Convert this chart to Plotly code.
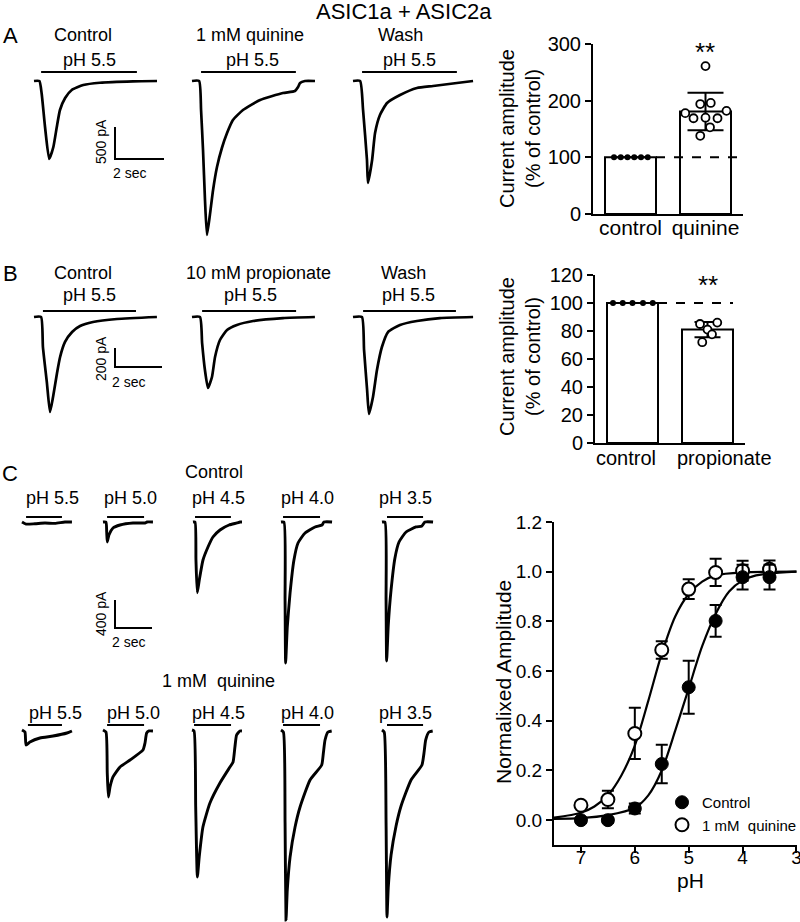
import plotly.graph_objects as go

W, H = 800, 922
FONT = "Liberation Sans, Arial, sans-serif"

# ===================== DATA =====================
# Panel A current traces (time in s from sweep start, current in pA)
A_CTRL_T = [0, 0.22, 0.31, 0.45, 0.62, 0.79, 0.93, 1.06, 1.27, 1.54, 2.01, 2.69, 4.04, 5.02]
A_CTRL_I = [0, 0, -188, -719, -1219, -1031, -719, -453, -266, -141, -63, -27, -5, 0]
A_QUIN_T = [0, 0.29, 0.37, 0.45, 0.53, 0.61, 0.73, 0.86, 1.02, 1.22, 1.43, 1.67, 2.08, 2.78, 3.71, 4.20, 4.33, 4.41, 4.61, 5.02]
A_QUIN_I = [0, 0, -453, -1078, -1859, -2406, -2094, -1703, -1344, -1047, -813, -609, -453, -297, -188, -156, -94, -31, 0, 0]
A_WASH_T = [0, 0.29, 0.41, 0.57, 0.61, 0.78, 0.90, 1.10, 1.39, 1.92, 2.61, 3.27, 4.24, 4.90]
A_WASH_I = [0, 0, -453, -1234, -1594, -1234, -813, -531, -344, -219, -109, -78, -31, 0]
A_LABELS = ["Control", "1 mM quinine", "Wash"]
A_PH = ["pH 5.5", "pH 5.5", "pH 5.5"]
A_APP = [(0.29, 4.20), (0.37, 4.24), (0.37, 4.24)]   # pH application (s)
A_SCALE = (2, 500)                                   # s, pA

# Panel B current traces
B_CTRL_T = [0, 0.30, 0.38, 0.55, 0.68, 0.81, 0.98, 1.11, 1.32, 1.62, 1.96, 2.51, 3.53, 5.23]
B_CTRL_I = [0, 0, -316, -695, -1000, -842, -589, -421, -263, -158, -95, -53, -21, 0]
B_PROP_T = [0, 0.34, 0.43, 0.55, 0.68, 0.85, 0.98, 1.19, 1.49, 1.91, 2.60, 3.87, 5.23]
B_PROP_I = [0, 0, -274, -558, -747, -632, -421, -242, -137, -84, -42, -11, 0]
B_WASH_T = [0, 0.38, 0.47, 0.60, 0.68, 0.85, 1.02, 1.23, 1.49, 2.00, 2.72, 3.70, 5.11]
B_WASH_I = [0, 0, -347, -768, -1021, -842, -558, -316, -158, -84, -42, -11, 0]
B_LABELS = ["Control", "10 mM propionate", "Wash"]
B_PH = ["pH 5.5", "pH 5.5", "pH 5.5"]
B_APP = [(0.38, 4.34), (0.43, 4.43), (0.43, 4.38)]
B_SCALE = (2, 200)

# Panel C current traces, control row
C_PH = ["pH 5.5", "pH 5.0", "pH 4.5", "pH 4.0", "pH 3.5"]
C1_T = [
    [0, 0.22, 0.70, 1.24, 1.78, 2.32, 2.70],
    [0, 0.16, 0.20, 0.23, 0.32, 0.54, 0.92, 1.62, 2.27, 2.38, 2.70],
    [0, 0.11, 0.16, 0.23, 0.34, 0.54, 0.81, 1.08, 1.46, 1.95, 2.38, 2.54, 2.65],
    [0, 0.16, 0.22, 0.25, 0.34, 0.49, 0.70, 0.92, 1.30, 1.84, 2.22, 2.32, 2.76],
    [0, 0.16, 0.22, 0.25, 0.34, 0.49, 0.70, 0.92, 1.30, 1.84, 2.16, 2.32, 2.76],
]
C1_I = [
    [0, -30, -25, -15, -20, 0, 0],
    [0, 0, -143, -286, -186, -86, -43, -14, -14, 0, 0],
    [0, 0, -543, -1010, -829, -543, -357, -214, -114, -43, -14, 0, 0],
    [0, 0, -1114, -2014, -1500, -1014, -543, -300, -157, -71, -43, 0, 0],
    [0, 0, -1114, -1986, -1471, -971, -514, -286, -143, -71, -57, 0, 0],
]
C1_APP = [(0.22, 2.16), (0.22, 2.22), (0.11, 2.05), (0.11, 2.11), (0.27, 2.22)]
# Panel C, 1 mM quinine row
C2_T = [
    [0, 0.16, 0.22, 0.43, 0.97, 1.68, 2.43, 2.70],
    [0, 0.16, 0.23, 0.29, 0.38, 0.54, 0.92, 1.46, 2.16, 2.27, 2.36, 2.49, 2.70],
    [0, 0.11, 0.20, 0.29, 0.39, 0.59, 0.97, 1.51, 2.05, 2.22, 2.32, 2.41, 2.59, 2.70],
    [0, 0.13, 0.22, 0.27, 0.34, 0.49, 0.76, 1.03, 1.57, 2.20, 2.29, 2.38, 2.54, 2.74],
    [0, 0.12, 0.22, 0.27, 0.34, 0.49, 0.76, 1.03, 1.57, 2.16, 2.27, 2.36, 2.54, 2.74],
]
C2_I = [
    [0, -29, -214, -171, -114, -86, -43, -14],
    [0, -29, -614, -957, -814, -671, -529, -429, -286, -186, -43, -14, -14],
    [0, -14, -1100, -2100, -1814, -1386, -1043, -757, -529, -457, -243, -71, -14, -14],
    [0, -29, -1329, -2714, -2286, -1814, -1386, -1100, -714, -500, -329, -143, -29, -14],
    [0, -29, -1329, -2671, -2243, -1786, -1371, -1086, -714, -500, -329, -143, -29, -14],
]
C2_APP = [(0.32, 2.16), (0.22, 2.22), (0.11, 2.11), (0.11, 2.11), (0.27, 2.22)]
C_SCALE = (2, 400)

# Bar chart A (% of control)
BA_CATS = ["control", "quinine"]
BA_MEAN = [100, 181]
BA_SD = [0, 33]
BA_CTRL_PTS = [100, 100, 100, 100, 100, 100]
BA_QUIN_PTS = [261, 178, 194, 196, 182, 169, 170, 169, 153, 138]

# Bar chart B (% of control)
BB_CATS = ["control", "propionate"]
BB_MEAN = [100, 81]
BB_SD = [0, 5.5]
BB_CTRL_PTS = [100, 100, 100, 100, 100]
BB_PROP_PTS = [85, 86, 81, 77.6, 72]

# pH dose-response
PH = [7, 6.5, 6, 5.5, 5, 4.5, 4, 3.5]
CTRL_AMP = [0.0, 0.0, 0.047, 0.226, 0.535, 0.802, 0.978, 0.978]
CTRL_ERR = [0.01, 0.01, 0.02, 0.077, 0.107, 0.064, 0.05, 0.05]
QUIN_AMP = [0.06, 0.083, 0.349, 0.685, 0.93, 0.997, 1.004, 1.01]
QUIN_ERR = [0.01, 0.035, 0.103, 0.035, 0.04, 0.055, 0.04, 0.035]
CTRL_FIT_PH = [7.5, 7.0, 6.5, 6.0, 5.75, 5.5, 5.25, 5.0, 4.75, 4.5, 4.25, 4.0, 3.75, 3.5, 3.0]
CTRL_FIT = [0.005, 0.008, 0.02, 0.05, 0.10, 0.20, 0.36, 0.53, 0.70, 0.83, 0.92, 0.965, 0.985, 0.993, 1.0]
QUIN_FIT_PH = [7.5, 7.0, 6.75, 6.5, 6.25, 6.0, 5.75, 5.5, 5.25, 5.0, 4.75, 4.5, 4.0, 3.0]
QUIN_FIT = [0.01, 0.03, 0.055, 0.10, 0.18, 0.30, 0.48, 0.67, 0.82, 0.91, 0.96, 0.985, 0.997, 1.0]

# ===================== LAYOUT HELPERS =====================
def px_x(x):
    return x / W

def px_y(y):
    return 1 - y / H

fig = go.Figure()
annotations = []
shapes = []

def ann(text, x, y, size=18, angle=0, xanchor="center", yanchor="middle"):
    annotations.append(dict(
        text=text, x=px_x(x), y=px_y(y),
        xref="paper", yref="paper", showarrow=False, textangle=angle,
        xanchor=xanchor, yanchor=yanchor,
        font=dict(family=FONT, size=size, color="black")))

# row axes: y pixel top/bottom, px per s, px per pA, baseline pixel
ROWS = {
    "A": dict(idx=1, ytop=56, ybot=252, pxs=24.5, pxa=0.064, base=81),
    "B": dict(idx=2, ytop=298, ybot=432, pxs=23.5, pxa=0.095, base=317),
    "C1": dict(idx=3, ytop=505, ybot=682, pxs=18.5, pxa=0.070, base=522),
    "C2": dict(idx=4, ytop=712, ybot=922, pxs=18.5, pxa=0.070, base=730),
}
ROW_X0, ROW_X1 = 0, 480
layout_axes = {}
for key, r in ROWS.items():
    i = r["idx"]
    xs = "xaxis" if i == 1 else "xaxis%d" % i
    ys = "yaxis" if i == 1 else "yaxis%d" % i
    layout_axes[xs] = dict(domain=[px_x(ROW_X0), px_x(ROW_X1)],
                           range=[ROW_X0 / r["pxs"], ROW_X1 / r["pxs"]], visible=False,
                           automargin=False, fixedrange=True, anchor="y" if i == 1 else "y%d" % i)
    layout_axes[ys] = dict(domain=[max(0, px_y(r["ybot"])), px_y(r["ytop"])],
                           range=[-(r["ybot"] - r["base"]) / r["pxa"], (r["base"] - r["ytop"]) / r["pxa"]],
                           visible=False, automargin=False, fixedrange=True,
                           anchor="x" if i == 1 else "x%d" % i)

def refs(r):
    i = r["idx"]
    return ("x" if i == 1 else "x%d" % i), ("y" if i == 1 else "y%d" % i)

def row_val(r, py):
    return (r["base"] - py) / r["pxa"]

def add_trace(r, start_px, T, I, width=2.7):
    xr, yr = refs(r)
    off = start_px / r["pxs"]
    fig.add_trace(go.Scatter(x=[off + t for t in T], y=I, mode="lines", xaxis=xr, yaxis=yr,
                             line=dict(color="black", width=width, shape="spline", smoothing=0.5),
                             showlegend=False, hoverinfo="skip"))

def add_app_bar(r, start_px, app, bar_py, width=2):
    xr, yr = refs(r)
    off = start_px / r["pxs"]
    v = row_val(r, bar_py)
    fig.add_trace(go.Scatter(x=[off + app[0], off + app[1]], y=[v, v], mode="lines",
                             xaxis=xr, yaxis=yr, line=dict(color="black", width=width),
                             showlegend=False, hoverinfo="skip"))

def add_scale(r, x_px, bottom_py, scale):
    xr, yr = refs(r)
    x0 = x_px / r["pxs"]
    yb = row_val(r, bottom_py)
    fig.add_trace(go.Scatter(x=[x0, x0, x0 + scale[0]], y=[yb + scale[1], yb, yb], mode="lines",
                             xaxis=xr, yaxis=yr, line=dict(color="black", width=2),
                             showlegend=False, hoverinfo="skip"))

# ---------- Panel A traces ----------
rA = ROWS["A"]
A_START = [34, 192, 353]
for s, T, I, app in zip(A_START, [A_CTRL_T, A_QUIN_T, A_WASH_T], [A_CTRL_I, A_QUIN_I, A_WASH_I], A_APP):
    add_trace(rA, s, T, I)
    add_app_bar(rA, s, app, 72)
add_scale(rA, 115, 159, A_SCALE)
for lab, ph, x1, x2 in zip(A_LABELS, A_PH, [83, 250, 400], [89, 252, 409]):
    ann(lab, x1, 35)
    ann(ph, x2, 60)
ann("%d pA" % A_SCALE[1], 101, 142, size=14, angle=-90)
ann("%d sec" % A_SCALE[0], 129, 173, size=14)

# ---------- Panel B traces ----------
rB = ROWS["B"]
B_START = [34, 192, 353]
for s, T, I, app in zip(B_START, [B_CTRL_T, B_PROP_T, B_WASH_T], [B_CTRL_I, B_PROP_I, B_WASH_I], B_APP):
    add_trace(rB, s, T, I)
    add_app_bar(rB, s, app, 311)
add_scale(rB, 115, 367, B_SCALE)
for lab, ph, x1, x2 in zip(B_LABELS, B_PH, [83, 258, 403], [89, 251, 408]):
    ann(lab, x1, 273)
    ann(ph, x2, 295)
ann("%d pA" % B_SCALE[1], 101, 359, size=14, angle=-90)
ann("%d sec" % B_SCALE[0], 128, 382, size=14)

# ---------- Panel C traces ----------
rC1, rC2 = ROWS["C1"], ROWS["C2"]
C1_START = [22, 103, 193, 281, 382]
C2_START = [22, 103, 192, 281, 382]
for s, T, I, app in zip(C1_START, C1_T, C1_I, C1_APP):
    add_trace(rC1, s, T, I, width=2.9)
    add_app_bar(rC1, s, app, 517)
for s, T, I, app in zip(C2_START, C2_T, C2_I, C2_APP):
    add_trace(rC2, s, T, I, width=2.9)
    add_app_bar(rC2, s, app, 725)
add_scale(rC1, 115, 628, C_SCALE)
for ph, x in zip(C_PH, [52, 130, 218, 307, 406]):
    ann(ph, x, 498)
for ph, x in zip(C_PH, [55, 133, 218, 307, 406]):
    ann(ph, x, 713)
ann("Control", 214, 472)
ann("1 mM  quinine", 218, 681)
ann("%d pA" % C_SCALE[1], 101, 614, size=14, angle=-90)
ann("%d sec" % C_SCALE[0], 128, 642, size=14)

# ---------- titles / panel letters ----------
ann("ASIC1a + ASIC2a", 404, 11, size=22)
ann("A", 10, 36, size=22)
ann("B", 10, 273, size=22)
ann("C", 10, 473, size=22)

# ---------- bar charts ----------
def bar_panel(idx, xpix, ypix, yrange, dtick, cats, mean, sd, ctrl_pts, trt_pts,
              ctrl_jit, trt_jit, cap_w, dash_end, star_py, star_x, show_ticklabels=True):
    xs, ys = "xaxis%d" % idx, "yaxis%d" % idx
    xr, yr = "x%d" % idx, "y%d" % idx
    fig.add_trace(go.Bar(x=[0, 1], y=mean, width=0.68, xaxis=xr, yaxis=yr,
                         marker=dict(color="white", line=dict(color="black", width=2)),
                         error_y=dict(type="data", array=sd, color="black", thickness=2, width=cap_w),
                         showlegend=False, hoverinfo="skip"))
    fig.add_trace(go.Scatter(x=[0 + j for j in ctrl_jit], y=ctrl_pts, mode="markers", xaxis=xr, yaxis=yr,
                             marker=dict(color="black", size=6), showlegend=False, hoverinfo="skip"))
    fig.add_trace(go.Scatter(x=[1 + j for j in trt_jit], y=trt_pts, mode="markers", xaxis=xr, yaxis=yr,
                             marker=dict(color="white", size=8, line=dict(color="black", width=1.8)),
                             showlegend=False, hoverinfo="skip"))
    shapes.append(dict(type="line", xref=xr, yref=yr, x0=0.34, x1=dash_end, y0=100, y1=100,
                       line=dict(color="black", width=2, dash="dash"), layer="above"))
    layout_axes[xs] = dict(domain=[px_x(xpix[0]), px_x(xpix[1])], range=[-0.5, 1.5],
                           tickvals=[0, 1], ticktext=cats, tickangle=0, showticklabels=show_ticklabels,
                           showline=True, linewidth=2, ticklabelstandoff=-6,
                           linecolor="black", ticks="", showgrid=False, zeroline=False, fixedrange=True,
                           anchor=yr, automargin=False,
                           tickfont=dict(family=FONT, size=21, color="black"))
    layout_axes[ys] = dict(domain=[px_y(ypix[1]), px_y(ypix[0])], range=yrange, dtick=dtick,
                           showline=True, linewidth=2, linecolor="black", ticks="outside", ticklen=6,
                           tickwidth=2, tickcolor="black", showgrid=False, zeroline=False,
                           fixedrange=True, anchor=xr, automargin=False,
                           tickfont=dict(family=FONT, size=20, color="black"))
    ann("**", star_x, star_py, size=26)

bar_panel(5, (593, 743), (44, 214), [0, 300], 100, BA_CATS, BA_MEAN, BA_SD, BA_CTRL_PTS, BA_QUIN_PTS,
          [-0.22, -0.13, -0.04, 0.05, 0.14, 0.23],
          [0.0, -0.27, -0.07, 0.07, 0.28, -0.16, 0.0, 0.16, 0.06, -0.07], 18, 1.5, 52, 705)
ann("Current amplitude<br>(% of control)", 520, 129, size=20, angle=-90)

bar_panel(6, (595, 745), (275, 443), [0, 120], 20, BB_CATS, BB_MEAN, BB_SD, BB_CTRL_PTS, BB_PROP_PTS,
          [-0.26, -0.13, 0.0, 0.14, 0.27],
          [-0.10, 0.13, 0.0, 0.06, -0.07], 13, 1.34, 285, 708, show_ticklabels=False)
ann(BB_CATS[0], 626, 458, size=20)
ann(BB_CATS[1], 724, 458, size=20)
ann("Current amplitude<br>(% of control)", 520, 357, size=20, angle=-90)

# ---------- dose response ----------
fig.add_trace(go.Scatter(x=QUIN_FIT_PH, y=QUIN_FIT, mode="lines", xaxis="x7", yaxis="y7",
                         line=dict(color="black", width=2.2, shape="spline", smoothing=0.8),
                         showlegend=False, hoverinfo="skip"))
fig.add_trace(go.Scatter(x=CTRL_FIT_PH, y=CTRL_FIT, mode="lines", xaxis="x7", yaxis="y7",
                         line=dict(color="black", width=2.2, shape="spline", smoothing=0.8),
                         showlegend=False, hoverinfo="skip"))
fig.add_trace(go.Scatter(x=PH, y=QUIN_AMP, mode="markers", xaxis="x7", yaxis="y7", name="1 mM  quinine",
                         error_y=dict(type="data", array=QUIN_ERR, color="black", thickness=2, width=6),
                         marker=dict(color="white", size=13, line=dict(color="black", width=2)),
                         legendrank=2, hoverinfo="skip"))
fig.add_trace(go.Scatter(x=PH, y=CTRL_AMP, mode="markers", xaxis="x7", yaxis="y7", name="Control",
                         error_y=dict(type="data", array=CTRL_ERR, color="black", thickness=2, width=6),
                         marker=dict(color="black", size=13, line=dict(color="black", width=1)),
                         legendrank=1, hoverinfo="skip"))
layout_axes["xaxis7"] = dict(domain=[px_x(554), px_x(797)], range=[7.5, 2.99], tickvals=[7, 6, 5, 4, 3],
                             showline=True, linewidth=2, linecolor="black", ticks="outside", ticklen=6,
                             tickwidth=2, tickcolor="black", showgrid=False, zeroline=False,
                             ticklabelstandoff=-12, ticklabeloverflow="allow",
                             fixedrange=True, anchor="y7", automargin=False,
                             tickfont=dict(family=FONT, size=19, color="black"))
layout_axes["yaxis7"] = dict(domain=[px_y(845), px_y(522)], range=[-0.1, 1.2],
                             tickvals=[0, 0.2, 0.4, 0.6, 0.8, 1.0, 1.2],
                             tickformat=".1f", showline=True, linewidth=2, linecolor="black", ticks="outside",
                             ticklen=6, tickwidth=2, tickcolor="black", showgrid=False, zeroline=False,
                             fixedrange=True, anchor="x7", automargin=False,
                             tickfont=dict(family=FONT, size=19, color="black"))
ann("Normalixed Amplitude", 503, 682, size=21, angle=-90)
ann("pH", 690, 880, size=21)

fig.update_layout(
    template="none",
    width=W, height=H, autosize=False,
    margin=dict(l=0, r=0, t=0, b=0, pad=0, autoexpand=False),
    paper_bgcolor="white", plot_bgcolor="white",
    font=dict(family=FONT, color="black"),
    annotations=annotations, shapes=shapes,
    showlegend=True,
    legend=dict(x=px_x(662), y=px_y(786), xanchor="left", yanchor="top",
                bgcolor="rgba(0,0,0,0)", font=dict(family=FONT, size=15, color="black"),
                itemwidth=30, tracegroupgap=0),
    **layout_axes,
)

fig.write_html("out.html", config={"displayModeBar": False},
               post_script="document.body.style.margin='0';")
